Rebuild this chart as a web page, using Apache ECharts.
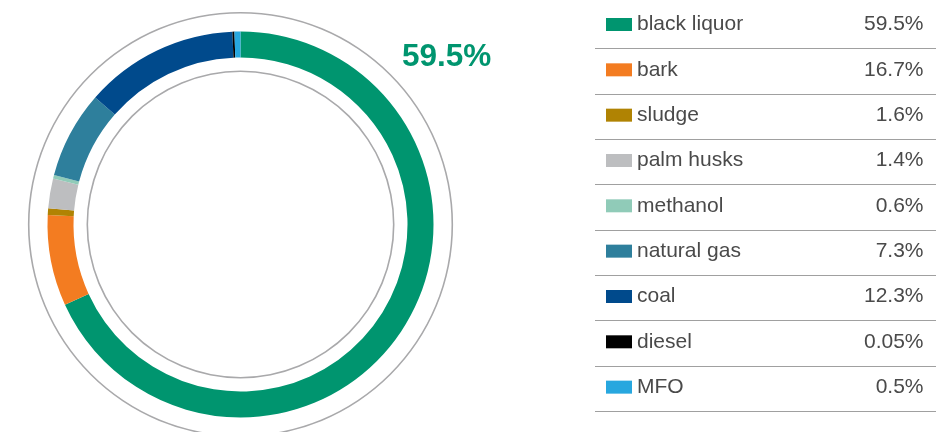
<!DOCTYPE html>
<html>
<head>
<meta charset="utf-8">
<script src="https://cdn.jsdelivr.net/npm/echarts@6/dist/echarts.min.js"></script>
<style>
html,body{margin:0;padding:0;background:#fff;}
#c{width:940px;height:432px;}
</style>
</head>
<body>
<div id="c"></div>
<script>
// Categories (legend order, clockwise from 12 o'clock)
const categories = ['black liquor','bark','sludge','palm husks','methanol','natural gas','coal','diesel','MFO'];
// Slice shares as drawn in the ring (%)
const sliceValues = [68.2, 7.6, 0.56, 2.5, 0.3, 7.3, 12.9, 0.17, 0.5];
// Percent labels as printed in the legend table
const legendLabels = ['59.5%','16.7%','1.6%','1.4%','0.6%','7.3%','12.3%','0.05%','0.5%'];
const colors = ['#00956f','#f37c21','#b08303','#bdbec0','#90cbb8','#2e7f9c','#004a8c','#000000','#27a7df'];

const FONT = '"Liberation Sans", Arial, Helvetica, sans-serif';
const center = [240.5, 224.5];

const chart = echarts.init(document.getElementById('c'), null, {renderer:'canvas'});

const rowStep = 45.33;
const lineTop = 48.3;
const itemH = 24;
const sepLines = [];
for (let i = 0; i < categories.length; i++) {
  const y = Math.round(lineTop + rowStep * i) + 0.5;
  sepLines.push({
    type:'line', silent:true,
    shape:{x1:595, y1:y, x2:936, y2:y},
    style:{stroke:'#a0a0a0', lineWidth:1}
  });
}

const labelMap = {};
categories.forEach((c,i)=>{ labelMap[c] = legendLabels[i]; });

chart.setOption({
  animation:false,
  color: colors,
  legend:{
    orient:'vertical',
    left:606, top:24.5 - itemH/2,
    padding:0,
    icon:'rect',
    itemWidth:26, itemHeight:13,
    itemGap: rowStep - itemH,
    selectedMode:false,
    data: categories,
    formatter: function(name){ return '{n|' + name + '}{v|' + labelMap[name] + '}'; },
    textStyle:{
      fontFamily:FONT, fontSize:21, color:'#4a4a4a', height:itemH, lineHeight:itemH,
      rich:{
        n:{width:200, fontFamily:FONT, fontSize:21, color:'#4a4a4a', height:itemH, lineHeight:itemH},
        v:{width:86.5, align:'right', fontFamily:FONT, fontSize:21, color:'#4a4a4a', height:itemH, lineHeight:itemH}
      }
    }
  },
  graphic: sepLines.concat([{
    type:'text', silent:true,
    x:446.7, y:57,
    style:{text: legendLabels[0], fill:'#00956f', font:'bold 31.5px ' + FONT, textAlign:'center', textVerticalAlign:'middle'}
  }]),
  series:[
    {
      type:'pie', silent:true, center:center, radius:[211, 212.6],
      label:{show:false}, labelLine:{show:false},
      itemStyle:{color:'#a9a9ab', borderWidth:0},
      data:[{value:1, name:'outer'}], legendHoverLink:false
    },
    {
      type:'pie', silent:true, center:center, radius:[152.4, 154],
      label:{show:false}, labelLine:{show:false},
      itemStyle:{color:'#a9a9ab', borderWidth:0},
      data:[{value:1, name:'inner'}], legendHoverLink:false
    },
    {
      type:'pie',
      center:center, radius:[167, 193],
      startAngle:90, clockwise:true,
      avoidLabelOverlap:false,
      label:{show:false}, labelLine:{show:false},
      emphasis:{disabled:true, scale:false},
      itemStyle:{borderWidth:0},
      data: categories.map((c,i)=>({name:c, value:sliceValues[i], itemStyle:{color:colors[i]}}))
    }
  ]
});
</script>
</body>
</html>
